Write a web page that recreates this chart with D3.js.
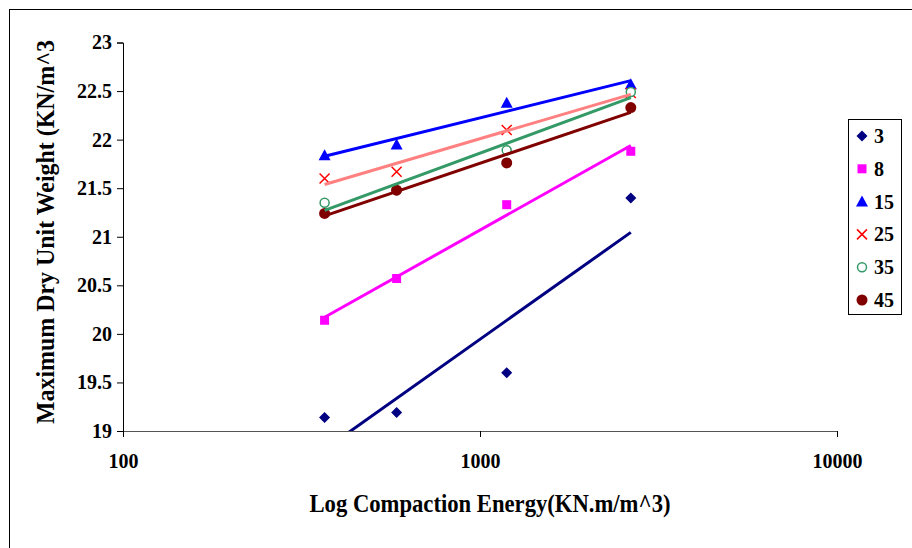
<!DOCTYPE html>
<html>
<head>
<meta charset="utf-8">
<script src="https://cdn.jsdelivr.net/npm/d3@7"></script>
<style>
  body { margin: 0; background: #fff; }
  text { font-family: "Liberation Serif", "Times New Roman", serif; font-weight: bold; fill: #000; }
</style>
</head>
<body>
<svg id="chart" width="912" height="548"></svg>
<script>
// data
const energy = [367, 584, 1188, 2645];
const seriesNames = ["3", "8", "15", "25", "35", "45"];
const s3 = [19.14, 19.19, 19.60, 21.40];
const s8 = [20.14, 20.57, 21.33, 21.88];
const s15 = [21.84, 21.95, 22.38, 22.57];
const s25 = [21.60, 21.67, 22.10, 22.48];
const s35 = [21.35, 21.48, 21.89, 22.49];
const s45 = [21.24, 21.48, 21.76, 22.33];
const xTicks = [100, 1000, 10000];
const yTicks = [19, 19.5, 20, 20.5, 21, 21.5, 22, 22.5, 23];

const markerColours = ["#000080", "#ff00ff", "#0000ff", "#ff0000", "#339966", "#800000"];
const lineColours = ["#000080", "#ff00ff", "#0000ff", "#ff8080", "#339966", "#800000"];
const shapes = ["diamond", "square", "triangle", "cross", "ring", "dot"];

const allSeries = [s3, s8, s15, s25, s35, s45].map((vals, i) => ({
  name: seriesNames[i],
  values: vals,
  marker: markerColours[i],
  line: lineColours[i],
  shape: shapes[i]
}));

const svg = d3.select("#chart");
const plot = {left: 123, right: 837, top: 42.5, bottom: 431};

// outer chart border
svg.append("rect")
  .attr("x", 9.5).attr("y", 9.5)
  .attr("width", 920).attr("height", 560)
  .attr("fill", "none").attr("stroke", "#000").attr("stroke-width", 1);

// scales
const x = d3.scaleLog().domain([100, 10000]).range([plot.left, plot.right]);
const y = d3.scaleLinear().domain([19, 23]).range([plot.bottom, plot.top]);

svg.append("defs").append("clipPath").attr("id", "clip")
  .append("rect")
    .attr("x", plot.left).attr("y", plot.top)
    .attr("width", plot.right - plot.left).attr("height", plot.bottom - plot.top);

// axes
const xAxis = d3.axisBottom(x).tickValues(xTicks).tickFormat(d3.format("d")).tickSize(6).tickPadding(17);
const yAxis = d3.axisLeft(y).tickValues(yTicks).tickFormat(d => d).tickSize(6).tickPadding(5);

svg.append("g")
  .attr("transform", `translate(0,${plot.bottom})`)
  .call(xAxis)
  .call(g => g.selectAll("text").style("font-size", "20px"))
  .call(g => g.select(".domain").attr("stroke", "#555"));

svg.append("g")
  .attr("transform", `translate(${plot.left},0)`)
  .call(yAxis)
  .call(g => g.selectAll("text").style("font-size", "20px"))
  .call(g => g.select(".domain").attr("stroke", "#000"));

// markers
function drawMarker(g, shape, colour) {
  if (shape === "diamond") {
    g.append("path").attr("d", "M0,-5.5L5.5,0L0,5.5L-5.5,0Z").attr("fill", colour);
  } else if (shape === "square") {
    g.append("rect").attr("x", -4.5).attr("y", -4.5).attr("width", 9).attr("height", 9).attr("fill", colour);
  } else if (shape === "triangle") {
    g.append("path").attr("d", "M0,-6L6,5L-6,5Z").attr("fill", colour);
  } else if (shape === "cross") {
    g.append("path").attr("d", "M-5,-5L5,5M-5,5L5,-5").attr("stroke", colour).attr("stroke-width", 1.5).attr("fill", "none");
  } else if (shape === "ring") {
    g.append("circle").attr("r", 4.5).attr("fill", "#fff").attr("stroke", colour).attr("stroke-width", 1.5);
  } else {
    g.append("circle").attr("r", 5.5).attr("fill", colour);
  }
}

const points = svg.append("g").attr("clip-path", "url(#clip)");
allSeries.forEach(s => {
  s.values.forEach((v, i) => {
    const g = points.append("g").attr("transform", `translate(${x(energy[i])},${y(v)})`);
    drawMarker(g, s.shape, s.marker);
  });
});

// logarithmic trendlines (least squares on log10 energy)
function trend(values) {
  const lx = energy.map(e => Math.log10(e));
  const mx = d3.mean(lx), my = d3.mean(values);
  const slope = d3.sum(lx, (u, i) => (u - mx) * (values[i] - my)) / d3.sum(lx, u => (u - mx) ** 2);
  const ends = [d3.min(energy), d3.max(energy)];
  return ends.map(e => [e, my + slope * (Math.log10(e) - mx)]);
}

const line = d3.line().x(d => x(d[0])).y(d => y(d[1]));

svg.append("g").attr("clip-path", "url(#clip)")
  .selectAll("path.trend")
  .data(allSeries)
    .enter()
  .append("path")
    .attr("class", "trend")
    .attr("d", d => line(trend(d.values)))
    .attr("fill", "none")
    .attr("stroke", d => d.line)
    .attr("stroke-width", 3);

// axis titles (condensed, as in the original)
svg.append("text")
  .text("Log Compaction Energy(KN.m/m^3)")
  .attr("x", 490).attr("y", 512)
  .attr("text-anchor", "middle")
  .attr("textLength", 361)
  .attr("lengthAdjust", "spacingAndGlyphs")
  .style("font-size", "25px");

svg.append("text")
  .text("Maximum Dry Unit Weight (KN/m^3")
  .attr("transform", "translate(54,232) rotate(-90)")
  .attr("text-anchor", "middle")
  .attr("textLength", 384)
  .attr("lengthAdjust", "spacingAndGlyphs")
  .style("font-size", "25px");

// legend
const legend = svg.append("g").attr("transform", "translate(848,119)");
legend.append("rect")
  .attr("x", 0.5).attr("y", 0.5).attr("width", 53).attr("height", 195)
  .attr("fill", "#fff").attr("stroke", "#000");

allSeries.forEach((s, i) => {
  const row = legend.append("g").attr("transform", `translate(0,${17 + i * 32.8})`);
  drawMarker(row.append("g").attr("transform", "translate(14,0)"), s.shape, s.marker);
  row.append("text")
    .text(s.name)
    .attr("x", 26).attr("y", 7)
    .style("font-size", "20px");
});
</script>
</body>
</html>
